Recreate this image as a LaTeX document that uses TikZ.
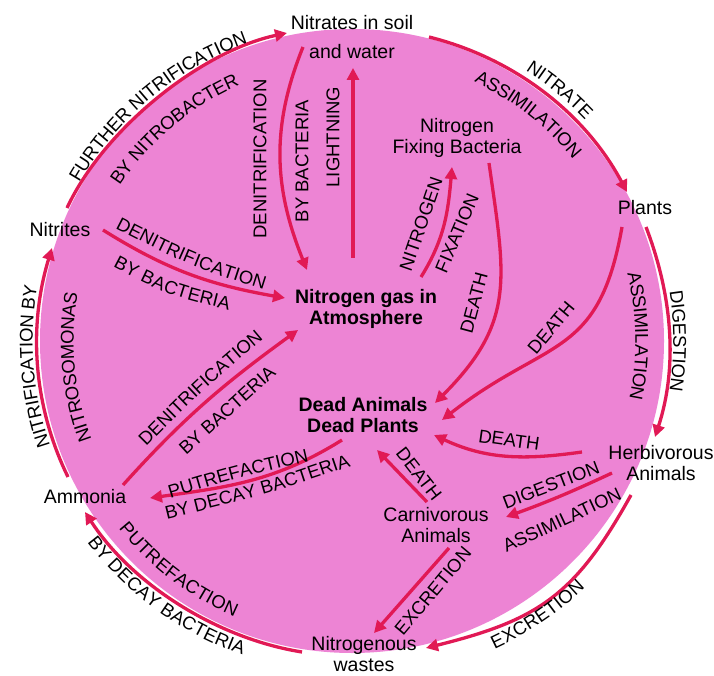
\documentclass[tikz,border=0pt]{standalone}
\usepackage{fontspec}
\setmainfont{Liberation Sans}
\usetikzlibrary{arrows.meta,decorations.text,calc}
\definecolor{pinkbg}{RGB}{237,132,212}
\definecolor{arrred}{RGB}{225,25,85}
\newcommand\nfont{\fontsize{19.5}{21}\selectfont}
\newcommand\lfont{\fontsize{18.5}{20}\selectfont}
\tikzset{
  arr/.style={draw=arrred, line width=3.3pt, -{Triangle[length=12pt,width=12pt]}},
  tx/.style={inner sep=0pt, align=center, font=\nfont},
  rl/.style={inner sep=0pt, font=\lfont},
}
% text along a path, centred on the path
\newcommand\lab[3]{%
  \path[decorate,decoration={text along path,text color=black,text={|\lfont|#2},raise=-6.6pt,text align=center,#1}] #3;}
\newcommand\cwlab[3]{\lab{}{#3}{($(C)+({#1+50}:#2)$) arc[start angle={#1+50}, end angle={#1-50}, radius=#2]}}
\newcommand\ccwlab[3]{\lab{}{#3}{($(C)+({#1-50}:#2)$) arc[start angle={#1-50}, end angle={#1+50}, radius=#2]}}
\begin{document}
\begin{tikzpicture}[x=1pt,y=1pt]
\useasboundingbox (0,0) rectangle (714,675);
\fill[white] (0,0) rectangle (714,675);
\coordinate (C) at (352,334);
\fill[pinkbg] (C) circle[radius=312];

% nodes
\node[tx,font=\fontsize{19.5}{29}\selectfont] (nitrates) at (352,637.5) {Nitrates in soil\\and water};
\node[tx] (nfb) at (457,537) {Nitrogen\\Fixing Bacteria};
\node[tx] (plants) at (645,467) {Plants};
\node[tx] (nitrites) at (60,445) {Nitrites};
\node[tx,font=\nfont\bfseries] (gas) at (366,366) {Nitrogen gas in\\Atmosphere};
\node[tx,font=\nfont\bfseries] (dead) at (363,260) {Dead Animals\\Dead Plants};
\node[tx] (herb) at (661,212) {Herbivorous\\Animals};
\node[tx] (ammonia) at (85,178) {Ammonia};
\node[tx] (carn) at (436,150) {Carnivorous\\Animals};
\node[tx] (wastes) at (364,21) {Nitrogenous\\wastes};

% outer ring arrows
\draw[arr] ([shift={(7,22)}]nitrites.center) to[out=65,in=192,looseness=0.8] ([shift={(-65,4.5)}]nitrates.center);
\draw[arr] ([shift={(77,0.5)}]nitrates.center) to[out=-14,in=118,looseness=0.9] ([shift={(-18,16)}]plants.center);
\draw[arr] ([shift={(1,-19)}]plants.center) to[out=-69,in=72,looseness=0.9] ([shift={(-6,26)}]herb.center);
\draw[arr] ([shift={(-30,-32)}]herb.center) to[out=-119,in=14,looseness=1.15] ([shift={(62,6)}]wastes.center);
\draw[arr] ([shift={(-62,2)}]wastes.center) to[out=171,in=-57,looseness=0.85] ([shift={(0,-15)}]ammonia.center);
\draw[arr] ([shift={(-17,20)}]ammonia.center) to[out=116,in=-107,looseness=0.9] ([shift={(-8,-18)}]nitrites.center);
% inner arrows
\draw[arr] ([shift={(-49,-9.5)}]nitrates.center) to[out=-112,in=112] ([shift={(-59,39)}]gas.center);
\draw[arr] ([shift={(-13,51)}]gas.center) -- ([shift={(1,-30.5)}]nitrates.center);
\draw[arr] ([shift={(43,0)}]nitrites.center) to[out=-32,in=170] ([shift={(-81,11)}]gas.center);
\draw[arr] ([shift={(55,32)}]gas.center) to[out=58,in=-95] ([shift={(-5,-29)}]nfb.center);
\draw[arr] ([shift={(32,-25)}]nfb.center) to[out=-82,in=45,looseness=1.2] ([shift={(72,12)}]dead.center);
\draw[arr] ([shift={(-23,-19)}]plants.center) to[out=-100,in=38,looseness=1.3] ([shift={(79,-5)}]dead.center);
\draw[arr] ([shift={(-79,11)}]herb.center) to[out=188,in=-25] ([shift={(71,-20)}]dead.center);
\draw[arr] ([shift={(-49,-10)}]herb.center) to[out=205,in=20] ([shift={(70,8)}]carn.center);
\draw[arr] ([shift={(-9,23)}]carn.center) -- ([shift={(14,-35)}]dead.center);
\draw[arr] ([shift={(13,-23)}]carn.center) -- ([shift={(10,21)}]wastes.center);
\draw[arr] ([shift={(-21,-25)}]dead.center) to[out=212,in=8] ([shift={(65,-1)}]ammonia.center);
\draw[arr] ([shift={(38,12)}]ammonia.center) to[out=48,in=216] ([shift={(-68,-21)}]gas.center);

% outer curved labels
\cwlab{129.6}{322}{FURTHER NITRIFICATION}
\cwlab{130}{286}{BY NITROBACTER}
\cwlab{50.4}{328}{NITRATE}
\cwlab{52.1}{293}{ASSIMILATION}
\cwlab{0}{328}{DIGESTION}
\cwlab{1}{290}{ASSIMILATION}
\ccwlab{-55.9}{333}{EXCRETION}
\ccwlab{232.9}{293}{PUTREFACTION}
\ccwlab{234}{326}{BY DECAY BACTERIA}
\cwlab{184.6}{326}{NITRIFICATION BY}
\cwlab{185.4}{285}{NITROSOMONAS}

% inner curved labels
\lab{}{DENITRIFICATION}{(104,460) .. controls (191.8,414.9) .. (281,386.5)}
\lab{}{BY BACTERIA}{(104.8,419.9) .. controls (168.8,386.0) .. (242.4,368.3)}
\lab{}{PUTREFACTION}{(154.7,179) .. controls (236.6,203.6) .. (321.5,223.2)}
\lab{}{BY DECAY BACTERIA}{(154.6,159.5) .. controls (263.7,186.3) .. (359.1,218.6)}
\lab{}{DENITRIFICATION}{(131.2,222.4) .. controls (199.7,291.2) .. (270.6,350.7)}
\lab{}{BY BACTERIA}{(171.6,214.9) -- (282.4,315.1)}

% straight labels
\node[rl,rotate=90] (denit7) at (260,516) {DENITRIFICATION};
\node[rl,rotate=90] (bybact7) at (302,514) {BY BACTERIA};
\node[rl,rotate=90] (lightning) at (333,538) {LIGHTNING};
\node[rl,rotate=71] (nitrogenlab) at (421,451) {NITROGEN};
\node[rl,rotate=67] (fixation) at (457,442) {FIXATION};
\node[rl,rotate=75] (death11) at (474,372) {DEATH};
\node[rl,rotate=50] (death12) at (551,347) {DEATH};
\node[rl,rotate=-8] (death13) at (509,235) {DEATH};
\node[rl,rotate=-52] (death15) at (419,201) {DEATH};
\node[rl,rotate=21] (dig14) at (551,190) {DIGESTION};
\node[rl,rotate=25] (ass14) at (562,155) {ASSIMILATION};
\node[rl,rotate=50] (exc16) at (433,84) {EXCRETION};
\end{tikzpicture}
\end{document}
